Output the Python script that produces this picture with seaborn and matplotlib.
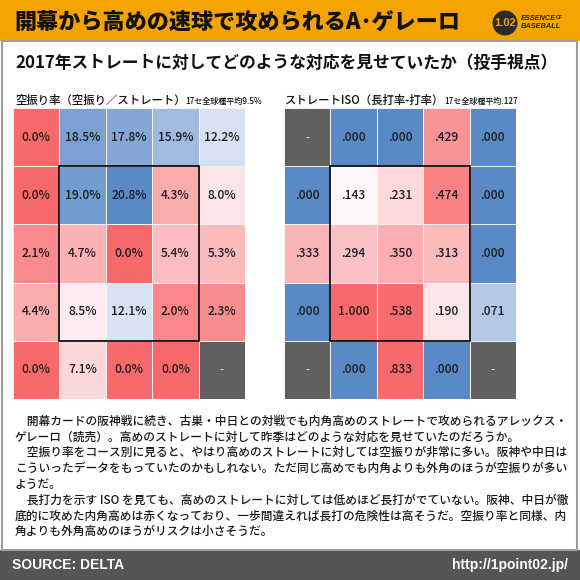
import numpy as np
import pandas as pd
import matplotlib
matplotlib.use("Agg")
import matplotlib.pyplot as plt
import seaborn as sns
from matplotlib.colors import LinearSegmentedColormap, TwoSlopeNorm, ListedColormap
from matplotlib.patches import Rectangle, Circle

W, H = 580, 580
FONT = ["Noto Sans CJK JP", "DejaVu Sans"]
LATIN = ["Liberation Sans", "DejaVu Sans"]

RED = "#F8696B"
WHITE = "#FCFCFF"
BLUE = "#5A8AC6"
NAN_GRAY = "#606060"
ORANGE = "#F5A300"

# strike zone grid, pitcher's view: rows high -> low, columns left -> right
whiff_rate = [
    [0.0, 18.5, 17.8, 15.9, 12.2],
    [0.0, 19.0, 20.8, 4.3, 8.0],
    [2.1, 4.7, 0.0, 5.4, 5.3],
    [4.4, 8.5, 12.1, 2.0, 2.3],
    [0.0, 7.1, 0.0, 0.0, np.nan],
]
whiff_avg = 9.5

iso = [
    [np.nan, 0.000, 0.000, 0.429, 0.000],
    [0.000, 0.143, 0.231, 0.474, 0.000],
    [0.333, 0.294, 0.350, 0.313, 0.000],
    [0.000, 1.000, 0.538, 0.190, 0.071],
    [np.nan, 0.000, 0.833, 0.000, np.nan],
]
iso_avg = 0.127

title = "開幕から高めの速球で攻められるA･ゲレーロ"
subtitle = "2017年ストレートに対してどのような対応を見せていたか（投手視点）"
whiff_title = "空振り率（空振り／ストレート）"
whiff_note = "17セ全球種平均9.5%"
iso_title = "ストレートISO（長打率-打率）"
iso_note = "17セ全球種平均.127"

body = [
    "　開幕カードの阪神戦に続き、古巣・中日との対戦でも内角高めのストレートで攻められるアレックス・",
    "ゲレーロ（読売）。高めのストレートに対して昨季はどのような対応を見せていたのだろうか。",
    "　空振り率をコース別に見ると、やはり高めのストレートに対しては空振りが非常に多い。阪神や中日は",
    "こういったデータをもっていたのかもしれない。ただ同じ高めでも内角よりも外角のほうが空振りが多い",
    "ようだ。",
    "　長打力を示す ISO を見ても、高めのストレートに対しては低めほど長打がでていない。阪神、中日が徹",
    "底的に攻めた内角高めは赤くなっており、一歩間違えれば長打の危険性は高そうだ。空振り率と同様、内",
    "角よりも外角高めのほうがリスクは小さそうだ。",
]


def fx(x):
    return x / W


def fy(y):
    return 1 - y / H


def PctLabel(v):
    return "" if np.isnan(v) else f"{v:.1f}%"


def IsoLabel(v):
    if np.isnan(v):
        return ""
    s = f"{v:.3f}"
    return s[1:] if s.startswith("0") else s


def DrawZone(fig, left, values, cmap, norm, labeler):
    df = pd.DataFrame(values)
    ax = fig.add_axes([fx(left), fy(399), 232 / W, 291 / H])
    labels = df.apply(lambda c: c.map(labeler)).values

    sns.heatmap(df, ax=ax, cmap=cmap, norm=norm, annot=labels, fmt="",
                cbar=False, linewidths=0.6, linecolor="#f2f2f2",
                annot_kws=dict(fontsize=8.7, color="#1a1a1a", family=FONT,
                               fontweight="medium"))

    # cells with no pitches
    missing = df.isna().astype(float)
    sns.heatmap(missing, ax=ax, mask=~df.isna(), cmap=ListedColormap([NAN_GRAY]),
                annot=np.full(df.shape, "-"), fmt="", cbar=False,
                linewidths=0.6, linecolor="#f2f2f2",
                annot_kws=dict(fontsize=8.7, color="#dddddd", family=FONT))

    ax.add_patch(Rectangle((1, 1), 3, 3, fill=False, edgecolor="black",
                           linewidth=1.2, zorder=5))
    ax.set_xticks([])
    ax.set_yticks([])
    ax.set_xlabel("")
    ax.set_ylabel("")
    return ax


def TitlePair(fig, x, y, big, small):
    t = fig.text(fx(x), fy(y), big, fontsize=8.2, family=FONT, va="baseline",
                 ha="left", color="#111111", fontweight="medium")
    bb = t.get_window_extent(renderer=fig.canvas.get_renderer())
    x1 = bb.x1 / fig.bbox.width
    fig.text(x1, fy(y), small, fontsize=5.8, family=FONT, va="baseline",
             ha="left", color="#111111", fontweight="medium")


def DrawFrame(fig):
    fig.add_artist(Rectangle((0, fy(41)), 1, 41 / H, transform=fig.transFigure,
                             facecolor=ORANGE, edgecolor="none"))
    fig.add_artist(Rectangle((0, 0), 1, 30 / H, transform=fig.transFigure,
                             facecolor="#555555", edgecolor="none"))
    fig.add_artist(Rectangle((fx(2), fy(550)), fx(575), (550 - 41) / H,
                             transform=fig.transFigure, fill=False,
                             edgecolor="#9c9c9c", linewidth=1.5))

    fig.text(fx(14), fy(22), title, fontsize=15.9, fontweight="heavy",
             family=FONT, va="center", ha="left", color="#111111")

    # logo
    fig.add_artist(Circle((fx(505), fy(23)), 12.5 / W, transform=fig.transFigure,
                          facecolor="#2a2a2a", edgecolor="none"))
    fig.text(fx(505), fy(23.5), "1.02", fontsize=8, fontweight="bold",
             family=LATIN, color=ORANGE, ha="center", va="center")
    fig.text(fx(521), fy(18), "ESSENCE", fontsize=5.3, fontweight="bold",
             style="italic", family=LATIN, ha="left", va="center")
    fig.text(fx(556), fy(17.5), "OF", fontsize=3.5, fontweight="bold",
             style="italic", family=LATIN, ha="left", va="center")
    fig.text(fx(521), fy(27), "BASEBALL", fontsize=5.3, fontweight="bold",
             style="italic", family=LATIN, ha="left", va="center")

    fig.text(fx(15), fy(63), subtitle, fontsize=12.1, fontweight="bold",
             family=FONT, va="center", ha="left", color="#111111")

    fig.text(fx(12), fy(565), "SOURCE: DELTA", fontsize=10, fontweight="bold",
             family=LATIN, color="white", va="center", ha="left")
    fig.text(fx(568), fy(565), "http://1point02.jp/", fontsize=10,
             fontweight="bold", family=LATIN, color="white", va="center",
             ha="right")


def main():
    sns.set_theme(style="white")
    plt.rcParams["font.family"] = FONT

    fig = plt.figure(figsize=(W / 100, H / 100), dpi=100)
    fig.patch.set_facecolor("white")

    whiff_cmap = LinearSegmentedColormap.from_list("whiff", [RED, WHITE, BLUE])
    whiff_norm = TwoSlopeNorm(vmin=0, vcenter=whiff_avg, vmax=20.8)
    DrawZone(fig, 13, whiff_rate, whiff_cmap, whiff_norm, PctLabel)

    iso_cmap = LinearSegmentedColormap.from_list("iso", [BLUE, WHITE, RED])
    iso_norm = TwoSlopeNorm(vmin=0, vcenter=iso_avg, vmax=0.55)
    DrawZone(fig, 284, iso, iso_cmap, iso_norm, IsoLabel)

    TitlePair(fig, 15, 104, whiff_title, whiff_note)
    TitlePair(fig, 285, 104, iso_title, iso_note)

    for i, line in enumerate(body):
        fig.text(fx(15), fy(421 + 15.8 * i), line, fontsize=8.45, family=FONT,
                 fontweight="medium", va="center", ha="left", color="#1a1a1a")

    DrawFrame(fig)

    fig.savefig("out.png", dpi=100)


if __name__ == "__main__":
    main()
